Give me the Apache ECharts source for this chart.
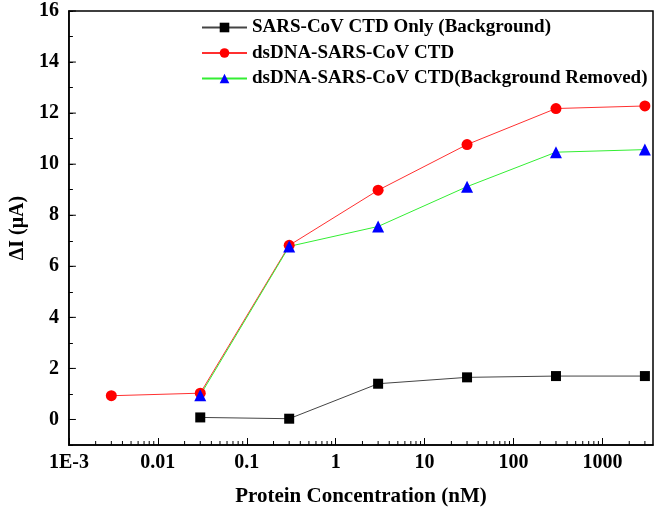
<!DOCTYPE html>
<html>
<head>
<meta charset="utf-8">
<script src="https://cdn.jsdelivr.net/npm/echarts@6/dist/echarts.min.js"></script>
<style>html,body{margin:0;padding:0;background:#fff}#c{width:656px;height:514px}</style>
</head>
<body>
<div id="c"></div>
<script>
const concentrations = [0.003, 0.03, 0.3, 3, 30, 300, 3000];
const backgroundOnly = [null, 0.08, 0.03, 1.4, 1.65, 1.7, 1.7];
const dsDNA = [0.93, 1.03, 6.82, 8.98, 10.77, 12.18, 12.28];
const backgroundRemoved = [null, 0.95, 6.78, 7.56, 9.12, 10.47, 10.57];
const seriesNames = ['SARS-CoV CTD Only (Background)', 'dsDNA-SARS-CoV CTD', 'dsDNA-SARS-CoV CTD(Background Removed)'];
const xMinorTicks = [];
[0.001, 0.01, 0.1, 1, 10, 100, 1000].forEach(d => { for (let k = 2; k <= 9; k++) { const v = d * k; if (v <= 3700) xMinorTicks.push(v); } });
const yMajorTicks = [0, 2, 4, 6, 8, 10, 12, 14, 16];

const font = '"Liberation Serif", "Times New Roman", serif';
const chart = echarts.init(document.getElementById('c'));
function pairs(vals) { return concentrations.map((c, i) => vals[i] == null ? null : [c, vals[i]]).filter(p => p); }

chart.setOption({
  animation: false,
  grid: { left: 64, right: 3, top: 11, bottom: 69, show: true, borderColor: '#000', borderWidth: 1.5 },
  legend: {
    orient: 'vertical', left: 196, top: 13, itemWidth: 45, itemHeight: 12, itemGap: 6.5,
    textStyle: { fontFamily: font, fontWeight: 'bold', fontSize: 19, color: '#000' },
    data: seriesNames
  },
  xAxis: {
    type: 'log', logBase: 10, min: 0.001, max: 3700,
    name: 'Protein Concentration (nM)', nameLocation: 'middle', nameGap: 41,
    nameTextStyle: { fontFamily: font, fontWeight: 'bold', fontSize: 21, color: '#000' },
    axisLine: { onZero: false, lineStyle: { color: '#000', width: 1.5 } },
    axisTick: { inside: true, length: 7, lineStyle: { color: '#000' } },
    splitLine: { show: false },
    axisLabel: { showMaxLabel: false, margin: 8, fontFamily: font, fontWeight: 'bold', fontSize: 20, color: '#000',
      formatter: v => { if (Math.abs(v - 0.001) < 1e-9) return '1E-3'; return String(+v.toPrecision(6)); } }
  },
  yAxis: {
    type: 'value', min: -1, max: 16, interval: 1,
    name: 'ΔI (μA)', nameLocation: 'middle', nameGap: 36,
    nameTextStyle: { fontFamily: font, fontWeight: 'bold', fontSize: 20, color: '#000' },
    axisLine: { lineStyle: { color: '#000', width: 1.5 } },
    axisTick: { inside: true, length: 4, lineStyle: { color: '#000' } },
    splitLine: { show: false },
    axisLabel: { margin: 10, fontFamily: font, fontWeight: 'bold', fontSize: 20, color: '#000',
      formatter: v => (v < 0 || v % 2 !== 0) ? '' : String(v) }
  },
  series: [
    { name: seriesNames[0], type: 'line', data: pairs(backgroundOnly), symbol: 'rect', symbolSize: 10,
      itemStyle: { color: '#000' }, lineStyle: { color: '#444', width: 1 } },
    { name: seriesNames[1], type: 'line', data: pairs(dsDNA), symbol: 'circle', symbolSize: 11,
      itemStyle: { color: '#ff0000' }, lineStyle: { color: '#ff3030', width: 1 } },
    { name: seriesNames[2], type: 'line', data: pairs(backgroundRemoved), symbol: 'triangle', symbolSize: 12,
      itemStyle: { color: '#0000ff' }, lineStyle: { color: '#33ee33', width: 1 } },
    { type: 'custom', silent: true, data: xMinorTicks.map(v => [v, -1]), clip: false,
      renderItem: (params, api) => {
        const p = api.coord([api.value(0), -1]);
        return { type: 'line', shape: { x1: p[0], y1: p[1], x2: p[0], y2: p[1] - 4 }, style: { stroke: '#000', lineWidth: 1 } };
      } },
    { type: 'custom', silent: true, data: yMajorTicks.map(v => [0.001, v]), clip: false,
      renderItem: (params, api) => {
        const p = api.coord([0.001, api.value(1)]);
        return { type: 'line', shape: { x1: p[0], y1: p[1], x2: p[0] + 7, y2: p[1] }, style: { stroke: '#000', lineWidth: 1 } };
      } }
  ]
});
</script>
</body>
</html>
